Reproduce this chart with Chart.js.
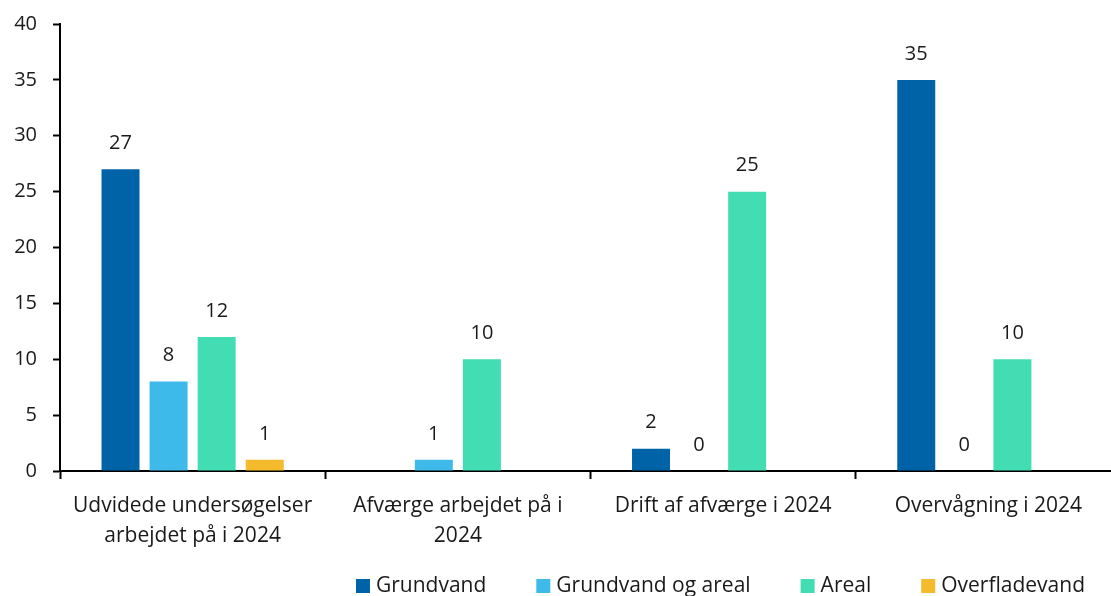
<!DOCTYPE html>
<html>
<head>
<meta charset="utf-8">
<script src="https://cdn.jsdelivr.net/npm/chart.js@4.4.1/dist/chart.umd.min.js"></script>
<style>
  html, body { margin: 0; padding: 0; background: #fff; overflow: hidden; }
  /* the plot runs a little past the right edge of the picture */
  #wrap { width: 1121px; height: 596px; position: relative; }
</style>
</head>
<body>
<div id="wrap"><canvas id="myChart"></canvas></div>
<script>
// categories on the x axis
const categories = [
    ['Udvidede undersøgelser', 'arbejdet på i 2024'],
    ['Afværge arbejdet på i', '2024'],
    'Drift af afværge i 2024',
    'Overvågning i 2024',
];

// series values (null = no bar and no label)
const grundvand = [27, null, 2, 35];
const grundvandOgAreal = [8, 1, 0, 0];
const areal = [12, 10, 25, 10];
const overfladevand = [1, null, null, null];

const yTicks = { min: 0, max: 40, step: 5 };

const FONT = '"Open Sans", sans-serif';
const TEXT = '#1a1a1a';

// draws the value above every bar
const valueLabels = {
    id: 'valueLabels',
    afterDatasetsDraw(chart) {
        const ctx = chart.ctx;
        ctx.save();
        ctx.font = '20px ' + FONT;
        ctx.fillStyle = TEXT;
        ctx.textAlign = 'center';
        ctx.textBaseline = 'middle';
        chart.data.datasets.forEach((ds, i) => {
            const meta = chart.getDatasetMeta(i);
            meta.data.forEach((bar, j) => {
                const v = ds.data[j];
                if (v === null || v === undefined) return;
                ctx.fillText(String(v), bar.x, bar.y - 26);
            });
        });
        ctx.restore();
    }
};

// legend at the bottom right, boxes close to their text
const bottomLegend = {
    id: 'bottomLegend',
    afterDraw(chart) {
        const ctx = chart.ctx;
        const box = 14, boxGap = 6, itemGap = 50, rightEdge = 1085, midY = 586;
        ctx.save();
        ctx.font = '21px ' + FONT;
        ctx.textBaseline = 'middle';
        ctx.textAlign = 'left';
        const items = chart.data.datasets.map(ds => ({
            text: ds.label, color: ds.backgroundColor, w: ctx.measureText(ds.label).width,
        }));
        let total = 0;
        items.forEach((it, i) => { total += box + boxGap + it.w + (i > 0 ? itemGap : 0); });
        let x = rightEdge - total;
        items.forEach((it) => {
            ctx.fillStyle = it.color;
            ctx.fillRect(x, midY - box / 2, box, box);
            ctx.fillStyle = TEXT;
            ctx.fillText(it.text, x + box + boxGap, midY);
            x += box + boxGap + it.w + itemGap;
        });
        ctx.restore();
    }
};

const data = {
    labels: categories,
    datasets: [
        { label: 'Grundvand', data: grundvand, backgroundColor: '#0063A8' },
        { label: 'Grundvand og areal', data: grundvandOgAreal, backgroundColor: '#3EBAEA' },
        { label: 'Areal', data: areal, backgroundColor: '#42DDB3' },
        { label: 'Overfladevand', data: overfladevand, backgroundColor: '#F4BB2C' },
    ],
};

const config = {
    type: 'bar',
    data: data,
    plugins: [valueLabels, bottomLegend],
    options: {
        responsive: true,
        maintainAspectRatio: false,
        animation: false,
        categoryPercentage: 0.725,
        barPercentage: 0.79,
        layout: { padding: { top: 24, right: 0, left: 0, bottom: 0 } },
        plugins: {
            tooltip: { enabled: false },
            legend: { display: false },
        },
        scales: {
            x: {
                afterFit: (scale) => { scale.height = 125; },
                grid: {
                    offset: true,
                    drawOnChartArea: false,
                    drawTicks: true,
                    tickLength: 8,
                    tickWidth: 2,
                    tickColor: '#000',
                },
                border: { color: '#000', width: 2 },
                ticks: {
                    font: { family: FONT, size: 21, lineHeight: 1.43 },
                    color: TEXT,
                    padding: 12,
                    maxRotation: 0,
                    autoSkip: false,
                },
            },
            y: {
                min: yTicks.min,
                max: yTicks.max,
                afterFit: (scale) => {
                    scale.width = 60;
                    scale.paddingTop = 0;
                    scale.paddingBottom = 0;
                },
                grid: {
                    drawOnChartArea: false,
                    drawTicks: true,
                    tickLength: 7,
                    tickWidth: 2,
                    tickColor: '#000',
                },
                border: { color: '#000', width: 2 },
                ticks: {
                    stepSize: yTicks.step,
                    font: { family: FONT, size: 20 },
                    color: TEXT,
                    padding: 16,
                },
            },
        },
    },
};

new Chart(document.getElementById('myChart'), config);
</script>
</body>
</html>
